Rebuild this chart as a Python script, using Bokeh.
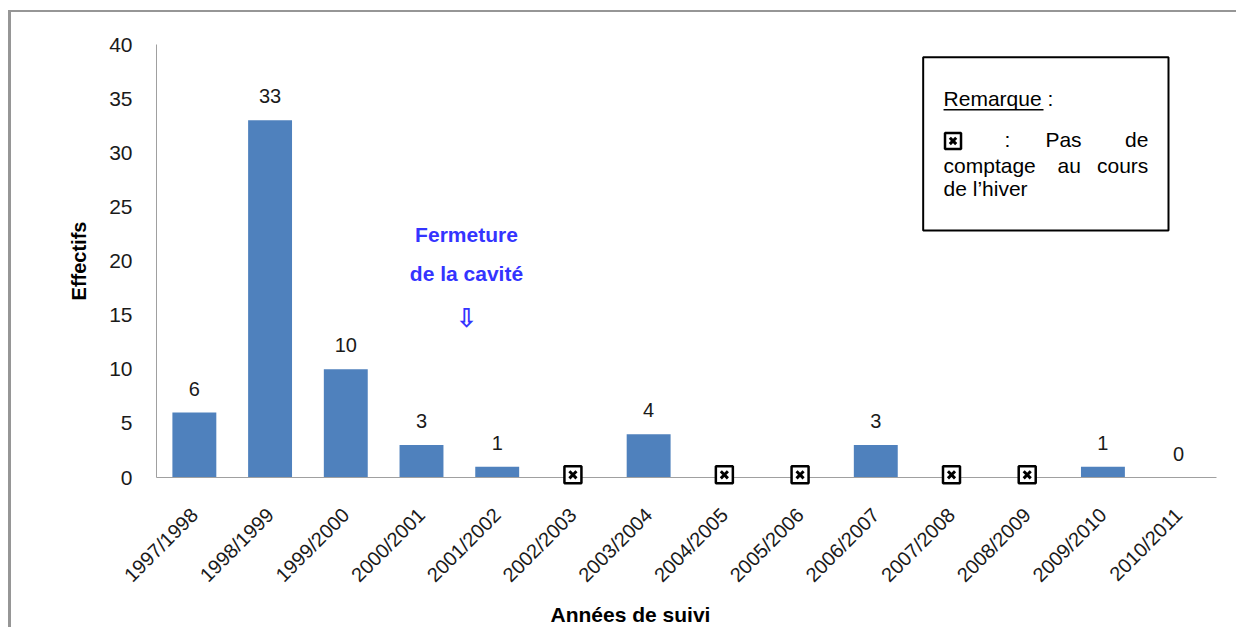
import math
from bokeh.plotting import figure
from bokeh.models import ColumnDataSource, FactorRange, Range1d, Label, BoxAnnotation, FixedTicker, Title
from bokeh.embed import file_html
from bokeh.resources import INLINE
from bokeh.core.properties import value

# ---- data ----
seasons = ["1997/1998", "1998/1999", "1999/2000", "2000/2001", "2001/2002", "2002/2003",
           "2003/2004", "2004/2005", "2005/2006", "2006/2007", "2007/2008", "2008/2009",
           "2009/2010", "2010/2011"]
counts = [6, 33, 10, 3, 1, None, 4, None, None, 3, None, None, 1, 0]
y_ticks = [0, 5, 10, 15, 20, 25, 30, 35, 40]

counted_seasons = [s for s, c in zip(seasons, counts) if c is not None]
counted_values = [c for c in counts if c is not None]
missing_seasons = [s for s, c in zip(seasons, counts) if c is None]

FONT = "Liberation Sans"
BAR = "#4f81bd"
BLUE = "#3434ff"
DY = 0.69  # baseline correction (data units)

p = figure(x_range=FactorRange(factors=seasons, range_padding=0),
           y_range=Range1d(0, 40),
           width=1228, height=617, output_backend="svg", toolbar_location=None,
           min_border_left=145, min_border_right=23, min_border_top=32, min_border_bottom=152)
p.styles = {"border-left": "3px solid #969696", "border-top": "2px solid #969696",
            "margin-top": "10px", "margin-left": "8px"}
p.outline_line_color = None
p.xgrid.visible = False
p.ygrid.visible = False

bars = ColumnDataSource(dict(season=counted_seasons, count=counted_values,
                             label=[str(v) for v in counted_values]))
p.vbar(x="season", top="count", width=0.58, source=bars, fill_color=BAR, line_color=None)
p.text(x="season", y="count", text="label", source=bars, text_align="center",
       text_baseline="alphabetic", y_offset=-24, text_font=value(FONT),
       text_font_size="20px", text_color="#1a1a1a")

miss = ColumnDataSource(dict(season=missing_seasons, zero=[0.25] * len(missing_seasons)))
p.scatter(x="season", y="zero", source=miss, marker="square", size=17, fill_color="white",
          line_color="black", line_width=2.5, level="overlay")
p.scatter(x="season", y="zero", source=miss, marker="x", size=10, line_color="black",
          line_width=3, level="overlay")

# axes
p.yaxis.ticker = FixedTicker(ticks=y_ticks)
p.yaxis.minor_tick_line_color = None
p.yaxis.major_tick_line_color = None
p.yaxis.major_tick_out = 0
p.yaxis.major_label_standoff = 24
p.yaxis.axis_line_color = "#a0a0a0"
p.yaxis.major_label_text_font = FONT
p.yaxis.major_label_text_font_size = "21px"
p.yaxis.major_label_text_color = "#1a1a1a"
p.yaxis.axis_label = "Effectifs"
p.yaxis.axis_label_text_font = FONT
p.yaxis.axis_label_text_font_style = "bold"
p.yaxis.axis_label_text_font_size = "20px"
p.yaxis.axis_label_text_color = "black"
p.yaxis.axis_label_standoff = 16

p.xaxis.major_tick_line_color = None
p.xaxis.major_tick_out = 0
p.xaxis.axis_line_color = "#a0a0a0"
p.xaxis.major_label_orientation = math.pi / 4
p.xaxis.major_label_standoff = 34
p.xaxis.major_label_text_font = FONT
p.xaxis.major_label_text_font_size = "20px"
p.xaxis.major_label_text_color = "#1a1a1a"

p.add_layout(Title(text="Années de suivi", align="left", offset=394, standoff=8,
                   text_font=FONT, text_font_style="bold", text_font_size="21px",
                   text_color="black"), "below")

# annotation "Fermeture de la cavité"
for txt, yy in [("Fermeture", 21.80), ("de la cavité", 18.11)]:
    p.add_layout(Label(x=4.094, y=yy + DY, text=txt, text_align="center", text_baseline="alphabetic",
                       text_font=FONT, text_font_style="bold", text_font_size="21px",
                       text_color=BLUE))
p.add_layout(Label(x=4.094, y=14.78, text="\u21e9", text_align="center", text_baseline="middle",
                   text_font="DejaVu Sans", text_font_style="bold", text_font_size="26px",
                   text_color=BLUE))

# remark box
p.add_layout(BoxAnnotation(left=10.126, right=13.366, bottom=22.82, top=38.83,
                           fill_color=None, line_color="black", line_alpha=1, line_width=2))
p.add_layout(BoxAnnotation(left=10.395, right=11.715, bottom=33.90, top=34.04,
                           fill_color="black", fill_alpha=1, line_color=None))

def box_text(x, y, t, align="left"):
    p.add_layout(Label(x=x, y=y + DY, text=t, text_align=align, text_baseline="alphabetic",
                       text_font=FONT, text_font_size="21px", text_color="black"))

box_text(10.395, 34.35, "Remarque :")
box_text(11.24, 30.51, ":", "center")
box_text(11.74, 30.51, "Pas")
box_text(13.10, 30.51, "de", "right")
box_text(10.395, 28.15, "comptage")
box_text(11.90, 28.15, "au")
box_text(13.10, 28.15, "cours", "right")
box_text(10.395, 25.97, "de l\u2019hiver")

legend_mark = ColumnDataSource(dict(x=[10.52], y=[31.09]))
p.scatter(x="x", y="y", source=legend_mark, marker="square", size=16, fill_color="white",
          line_color="black", line_width=2.5, level="overlay")
p.scatter(x="x", y="y", source=legend_mark, marker="x", size=9, line_color="black",
          line_width=3, level="overlay")

open("out.html", "w").write(file_html(p, INLINE))
